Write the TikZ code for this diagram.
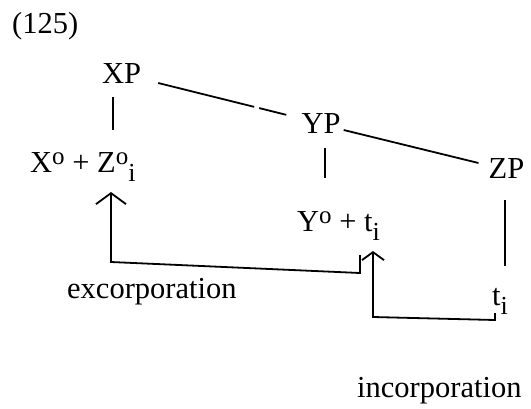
\documentclass[tikz,border=0pt]{standalone}
\usepackage{fontspec}
\setmainfont{Liberation Serif}
\usetikzlibrary{arrows.meta,calc}
\newcommand\upo{\raisebox{8pt}{\fontsize{25}{25}\selectfont o}}
\newcommand\dni{\raisebox{-9pt}{\fontsize{26}{26}\selectfont i}}
\begin{document}
\begin{tikzpicture}[x=1pt,y=-1pt,
  lbl/.style={inner sep=0pt,font=\fontsize{30.5}{36}\selectfont},
  edge/.style={line width=1.8pt},
  bigarr/.style={line width=1.8pt,-{Straight Barb[length=11pt,width=30pt]}},
  smallarr/.style={line width=1.8pt,-{Straight Barb[length=8pt,width=22pt]}}]
\useasboundingbox (0,0) rectangle (531,408);
\node[lbl,anchor=base west] (num) at (12,33) {(125)};
\node[lbl,anchor=base] (XP) at (121.5,83) {XP};
\node[lbl,anchor=base] (YP) at (321,133) {YP};
\node[lbl,anchor=base] (ZP) at (506.5,178) {ZP};
\node[lbl,anchor=base west] (XZ) at (30,172) {X\upo{} + Z\upo\dni};
\node[lbl,anchor=base west] (Yt) at (297,231) {Y\upo{} + t\dni};
\node[lbl,anchor=base west] (ti) at (492,305) {t\dni};
\node[lbl,anchor=base west] (ex) at (67,298) {excorporation};
\node[lbl,anchor=base west] (in) at (357,397) {incorporation};
% tree edges
\draw[edge,dash pattern=on 99pt off 5pt on 40pt off 0pt] ($(XP.base east)+(17,0)$) -- ($(YP.north west)+(-15,2)$);
\draw[edge] ($(YP.base east)+(3,-3)$) -- ($(ZP.base west)+(-10,-15)$);
\draw[edge] ($(XP.base)+(-8.5,14)$) -- ++(0,33);
\draw[edge] ($(YP.base)+(4,15)$) -- ++(0,30);
\draw[edge] ($(ZP.base)+(-1.5,22)$) -- ++(0,66);
% movement arrows
\draw[bigarr] ($(Yt.base west)+(63,24)$) -- ++(0,18) -- ($(XZ.base west)+(81,90)$) -- ($(XZ.base west)+(81,20)$);
\draw[smallarr] ($(ti.base west)+(3,8)$) -- ++(0,7) -- ($(Yt.base west)+(76,86)$) -- ($(Yt.base west)+(76,20)$);
\end{tikzpicture}
\end{document}
